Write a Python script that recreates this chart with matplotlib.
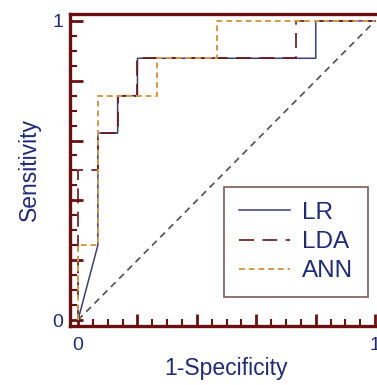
import matplotlib
matplotlib.use("Agg")
import matplotlib.pyplot as plt
from matplotlib.ticker import MultipleLocator

# ROC step points
lr_fpr = [0, 1/15, 1/15, 2/15, 2/15, 3/15, 3/15, 12/15, 12/15, 1]
lr_tpr = [0, 0.25, 0.625, 0.625, 0.75, 0.75, 0.875, 0.875, 1, 1]

lda_fpr = [0, 0, 1/15, 1/15, 2/15, 2/15, 3/15, 3/15, 11/15, 11/15, 1]
lda_tpr = [0, 0.5, 0.5, 0.625, 0.625, 0.75, 0.75, 0.875, 0.875, 1, 1]

ann_fpr = [0, 0, 1/15, 1/15, 4/15, 4/15, 7/15, 7/15, 1]
ann_tpr = [0, 0.25, 0.25, 0.75, 0.75, 0.875, 0.875, 1, 1]

labels = ["LR", "LDA", "ANN"]

plt.rcParams['font.family'] = ['Liberation Sans', 'DejaVu Sans']
navy = '#1f2a7a'
axcol = '#6b1010'

fig = plt.figure(figsize=(3.77, 3.85), dpi=100)
ax = fig.add_axes([70/377, 1 - 326/385, 312/377, 312/385])

ax.plot([0, 1], [0, 1], color='#505050', lw=1.2, dashes=(4, 3))
ax.plot(lr_fpr, lr_tpr, color='#3b3f7a', lw=1.1, label=labels[0])
ax.plot(lda_fpr, lda_tpr, color='#6a1414', lw=1.2, dashes=(9, 5), label=labels[1])
ax.plot(ann_fpr, ann_tpr, color='#d49a45', lw=1.4, dashes=(3, 2), label=labels[2])

ax.set_xlim(-0.027, 1.023)
ax.set_ylim(-0.02, 1.023)

ax.xaxis.set_minor_locator(MultipleLocator(0.05))
ax.yaxis.set_minor_locator(MultipleLocator(0.05))
ax.set_xticks([0, 0.2, 0.4, 0.6, 0.8, 1.0])
ax.set_xticklabels(['0', '', '', '', '', '1'])
ax.set_yticks([0, 0.2, 0.4, 0.6, 0.8, 1.0])
ax.set_yticklabels(['0', '', '', '', '', '1'])

ax.tick_params(which='major', direction='in', length=9, width=2, color=axcol,
               labelsize=14, labelcolor=navy)
ax.tick_params(axis='x', which='major', pad=8)
ax.tick_params(axis='y', which='major', pad=5)
ax.tick_params(which='minor', direction='in', length=5, width=1.5, color=axcol)
for side in ['left', 'bottom', 'top']:
    ax.spines[side].set_color(axcol)
    ax.spines[side].set_linewidth(2.4)
ax.spines['right'].set_visible(False)

ax.set_xlabel('1-Specificity', fontsize=16.5, color=navy, labelpad=2)
ax.set_ylabel('Sensitivity', fontsize=16.5, color=navy, labelpad=8)

leg = ax.legend(loc='lower right', bbox_to_anchor=(0.955, 0.093), fontsize=17.5,
                frameon=True, fancybox=False, handlelength=2.1, handletextpad=0.5,
                labelspacing=0.3, borderpad=0.6, borderaxespad=0, labelcolor=navy)
leg.get_frame().set_edgecolor('#5a3030')
leg.get_frame().set_linewidth(1.2)

fig.savefig('out.png', dpi=100)
